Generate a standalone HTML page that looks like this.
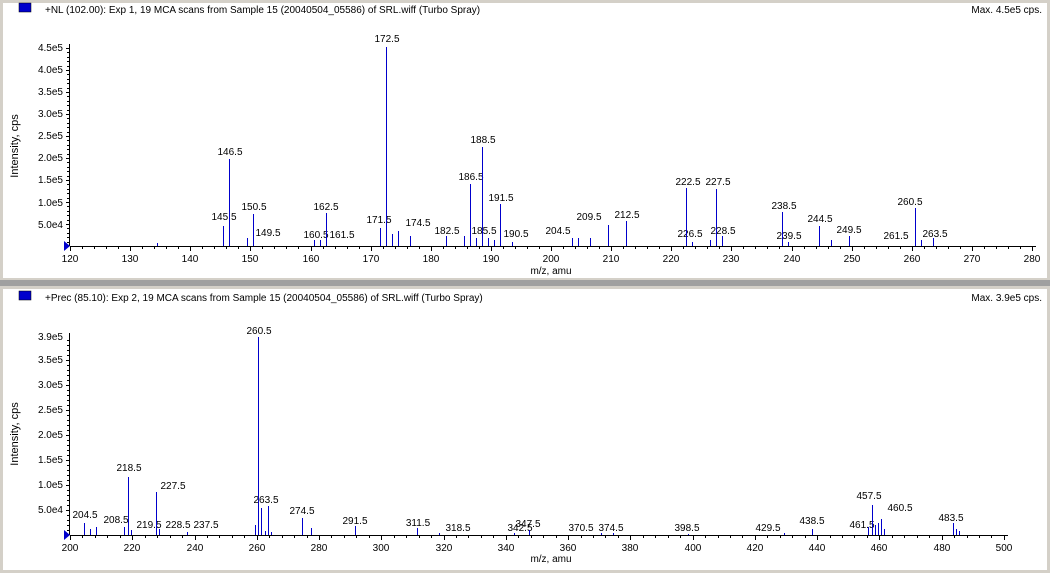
<!DOCTYPE html><html><head><meta charset="utf-8"><style>
body{margin:0;width:1050px;height:573px;background:#d4d0c8;overflow:hidden}
svg{display:block;font-family:"Liberation Sans",Arial,sans-serif;font-size:11px}
</style></head><body>
<svg id="s" width="1050" height="573" xmlns="http://www.w3.org/2000/svg">
<rect x="3" y="3" width="1044" height="275" fill="#fff"/>
<rect x="0" y="280" width="1050" height="6" fill="#a0a0a0"/>
<rect x="3" y="289" width="1044" height="281" fill="#fff"/>
<rect x="19" y="3" width="12" height="9" fill="#0000cc" stroke="#000" stroke-width="0.5"/>
<rect x="19" y="291" width="12" height="9" fill="#0000cc" stroke="#000" stroke-width="0.5"/>
<text x="45" y="13" font-size="10">+NL (102.00): Exp 1, 19 MCA scans from Sample 15 (20040504_05586) of SRL.wiff (Turbo Spray)</text>
<text x="1042" y="13" font-size="10" text-anchor="end">Max. 4.5e5 cps.</text>
<text x="45" y="301" font-size="10">+Prec (85.10): Exp 2, 19 MCA scans from Sample 15 (20040504_05586) of SRL.wiff (Turbo Spray)</text>
<text x="1042" y="301" font-size="10" text-anchor="end">Max. 3.9e5 cps.</text>
<text transform="translate(18,146) rotate(-90)" text-anchor="middle">Intensity, cps</text>
<text transform="translate(18,434) rotate(-90)" text-anchor="middle">Intensity, cps</text>
<text x="551" y="274" text-anchor="middle" font-size="10">m/z, amu</text>
<text x="551" y="562" text-anchor="middle" font-size="10">m/z, amu</text>
<g text-anchor="end" font-size="10">
<text x="63" y="51">4.5e5</text><text x="63" y="73">4.0e5</text><text x="63" y="95">3.5e5</text><text x="63" y="117">3.0e5</text><text x="63" y="139">2.5e5</text><text x="63" y="161">2.0e5</text><text x="63" y="183">1.5e5</text><text x="63" y="206">1.0e5</text><text x="63" y="228">5.0e4</text>
<text x="63" y="340">3.9e5</text><text x="63" y="363">3.5e5</text><text x="63" y="388">3.0e5</text><text x="63" y="413">2.5e5</text><text x="63" y="438">2.0e5</text><text x="63" y="463">1.5e5</text><text x="63" y="488">1.0e5</text><text x="63" y="513">5.0e4</text>
</g>
<g text-anchor="middle" font-size="10">
<text x="70" y="262">120</text><text x="130" y="262">130</text><text x="190" y="262">140</text><text x="250" y="262">150</text><text x="311" y="262">160</text><text x="371" y="262">170</text><text x="431" y="262">180</text><text x="491" y="262">190</text><text x="551" y="262">200</text><text x="611" y="262">210</text><text x="671" y="262">220</text><text x="731" y="262">230</text><text x="792" y="262">240</text><text x="852" y="262">250</text><text x="912" y="262">260</text><text x="972" y="262">270</text><text x="1032" y="262">280</text>
<text x="70" y="551">200</text><text x="132" y="551">220</text><text x="195" y="551">240</text><text x="257" y="551">260</text><text x="319" y="551">280</text><text x="381" y="551">300</text><text x="444" y="551">320</text><text x="506" y="551">340</text><text x="568" y="551">360</text><text x="630" y="551">380</text><text x="693" y="551">400</text><text x="755" y="551">420</text><text x="817" y="551">440</text><text x="879" y="551">460</text><text x="942" y="551">480</text><text x="1004" y="551">500</text>
</g>
<g text-anchor="middle" font-size="10">
<text x="387" y="42">172.5</text><text x="230" y="155">146.5</text><text x="224" y="220">145.5</text><text x="254" y="210">150.5</text><text x="268" y="236">149.5</text><text x="316" y="238">160.5</text><text x="342" y="238">161.5</text><text x="326" y="210">162.5</text><text x="379" y="223">171.5</text><text x="418" y="226">174.5</text><text x="447" y="234">182.5</text><text x="484" y="234">185.5</text><text x="471" y="180">186.5</text><text x="483" y="143">188.5</text><text x="501" y="201">191.5</text><text x="516" y="237">190.5</text><text x="558" y="234">204.5</text><text x="589" y="220">209.5</text><text x="627" y="218">212.5</text><text x="688" y="185">222.5</text><text x="690" y="237">226.5</text><text x="718" y="185">227.5</text><text x="723" y="234">228.5</text><text x="784" y="209">238.5</text><text x="789" y="239">239.5</text><text x="820" y="222">244.5</text><text x="849" y="233">249.5</text><text x="910" y="205">260.5</text><text x="896" y="239">261.5</text><text x="935" y="237">263.5</text>
<text x="259" y="334">260.5</text><text x="129" y="471">218.5</text><text x="173" y="489">227.5</text><text x="85" y="518">204.5</text><text x="116" y="523">208.5</text><text x="149" y="528">219.5</text><text x="178" y="528">228.5</text><text x="206" y="528">237.5</text><text x="266" y="503">263.5</text><text x="302" y="514">274.5</text><text x="355" y="524">291.5</text><text x="418" y="526">311.5</text><text x="458" y="531">318.5</text><text x="520" y="531">342.5</text><text x="528" y="527">347.5</text><text x="581" y="531">370.5</text><text x="611" y="531">374.5</text><text x="687" y="531">398.5</text><text x="768" y="531">429.5</text><text x="812" y="524">438.5</text><text x="869" y="499">457.5</text><text x="900" y="511">460.5</text><text x="862" y="528">461.5</text><text x="951" y="521">483.5</text>
</g>
<g id="g" stroke="#000" stroke-width="1" shape-rendering="crispEdges"></g>
<polygon points="64,241 70,246 64,251" fill="#0000cc"/>
<polygon points="64,530 70,535 64,540" fill="#0000cc"/>
</svg>
<script>
var g=document.getElementById('g'),o='';
function L(x1,y1,x2,y2,c){o+='<line x1="'+x1+'" y1="'+y1+'" x2="'+x2+'" y2="'+y2+'" stroke="'+(c||'#000')+'"/>';}
// top axes
var tb=246,tx=function(m){return Math.round(70+(m-120)*6.0125)+.5};
L(70,tb+.5,1036,tb+.5);L(69.5,44,69.5,tb);
for(var m=120;m<=280;m+=2)L(tx(m),tb,tx(m),tb+(m%10==0?5:3));
for(var i=0;i<=45;i++){var y=Math.round(tb-i*4.4)+.5;L(69,y,i%5==0?66:67,y);}
var T=[[134.5,3],[145.5,20],[146.5,87],[149.5,8],[150.5,32],[160.5,6],[161.5,6],[162.5,33],[171.5,18],[172.5,199],[173.5,12],[174.5,15],[176.5,10],[182.5,10],[185.5,10],[186.5,62],[187.5,8],[188.5,99],[189.5,8],[190.5,6],[191.5,42],[193.5,4],[203.5,8],[204.5,8],[206.5,8],[209.5,21],[212.5,25],[222.5,58],[223.5,4],[226.5,6],[227.5,57],[228.5,10],[238.5,34],[239.5,4],[244.5,20],[246.5,6],[249.5,10],[260.5,38],[261.5,6],[263.5,8]];
T.forEach(function(p){L(tx(p[0]),tb,tx(p[0]),tb-p[1],'#0000cc');});
// bottom
var bb=535,bx=function(m){return Math.round(70+(m-200)*3.113)+.5};
L(70,bb+.5,1008,bb+.5);L(69.5,333,69.5,bb);
for(var m=200;m<=500;m+=4)L(bx(m),bb,bx(m),bb+(m%20==0?5:3));
for(var i=0;i<=39;i++){var y=Math.round(bb-i*5)+.5;L(69,y,i%5==0?66:67,y);}
var B=[[204.5,12],[206.5,6],[208.5,8],[217.5,8],[218.5,58],[219.5,5],[227.5,43],[228.5,6],[237.5,3],[259.5,10],[260.5,198],[261.5,27],[262.5,4],[263.5,29],[264.5,3],[274.5,17],[277.5,7],[291.5,9],[311.5,7],[318.5,2],[342.5,2],[347.5,5],[370.5,2],[374.5,2],[398.5,1],[429.5,2],[438.5,6],[456.5,8],[457.5,30],[458.5,10],[459.5,12],[460.5,16],[461.5,6],[483.5,12],[484.5,6],[485.5,4]];
B.forEach(function(p){L(bx(p[0]),bb,bx(p[0]),bb-p[1],'#0000cc');});
g.innerHTML=o;
</script>
</body></html>
